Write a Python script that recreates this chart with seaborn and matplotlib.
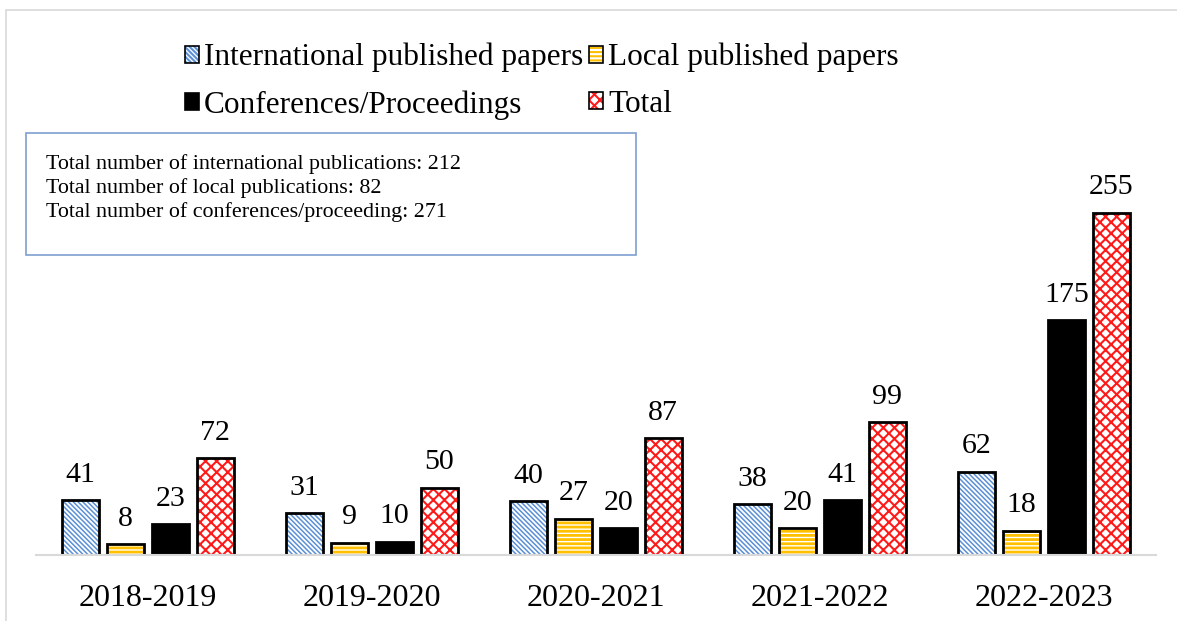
import matplotlib
matplotlib.use("Agg")
import matplotlib.pyplot as plt
from matplotlib.patches import Rectangle, Patch
from matplotlib.legend_handler import HandlerTuple
import pandas as pd
import seaborn as sns

years = ["2018-2019", "2019-2020", "2020-2021", "2021-2022", "2022-2023"]
series = ["International published papers", "Local published papers",
          "Conferences/Proceedings", "Total"]
international = [41, 31, 40, 38, 62]
local = [8, 9, 27, 20, 18]
conferences = [23, 10, 20, 41, 175]
total = [72, 50, 87, 99, 255]
summary_lines = [
    "Total number of international publications: 212",
    "Total number of local publications: 82",
    "Total number of conferences/proceeding: 271",
]

values = [international, local, conferences, total]
df = pd.DataFrame({
    "year": [y for _ in series for y in years],
    "series": [s for s in series for _ in years],
    "value": [v for vals in values for v in vals],
})

# fill, hatch, hatch colour, hatch linewidth per series
styles = {
    "International published papers": ("white", "\\" * 7, "#5b8fd6", 1.1),
    "Local published papers": ("white", "----", "#ffc000", 2.0),
    "Conferences/Proceedings": ("black", "", "black", 1.0),
    "Total": ("white", "xxx", "#ff1a1a", 1.5),
}

sns.set_theme(style="white")
plt.rcParams["font.family"] = ["Liberation Serif", "DejaVu Serif"]
plt.rcParams["text.color"] = "black"
plt.rcParams["xtick.color"] = "black"
plt.rcParams["hatch.linewidth"] = 1.5

W, H = 1177, 621
fig = plt.figure(figsize=(W / 100, H / 100), dpi=100)
fig.patch.set_facecolor("white")

# outer chart frame
fig.add_artist(Rectangle((6 / W, -0.1), 1.2, (H - 10) / H + 0.1,
                         transform=fig.transFigure, fill=False,
                         edgecolor="#d9d9d9", linewidth=1.2))

ymax = 300
px_per_unit = (555 - 213) / 255
top_px = 555 - ymax * px_per_unit
ax = fig.add_axes([36 / W, (H - 555) / H, (1156 - 36) / W, (555 - top_px) / H])

sns.barplot(data=df, x="year", y="value", hue="series", order=years,
            hue_order=series, width=0.8, gap=0.17, ax=ax, legend=False,
            errorbar=None)


def style_patch(p, fc, hatch, hc, hlw):
    p.set_facecolor(fc)
    p.set_hatch(hatch)
    p.set_edgecolor(hc)
    if hasattr(p, "set_hatch_linewidth"):
        p.set_hatch_linewidth(hlw)


for s_idx, s in enumerate(series):
    fc, hatch, hc, hlw = styles[s]
    for y_idx in range(len(years)):
        p = ax.patches[s_idx * len(years) + y_idx]
        style_patch(p, fc, hatch, hc, hlw)
        p.set_linewidth(0)
        x0, w, h = p.get_x(), p.get_width(), p.get_height()
        # black outline drawn over the hatched fill
        ax.add_patch(Rectangle((x0, 0), w, h, fill=False, edgecolor="black",
                               linewidth=2, zorder=p.get_zorder() + 0.1))
        ax.annotate(f"{values[s_idx][y_idx]}", (x0 + w / 2, h),
                    xytext=(0, 9), textcoords="offset points",
                    ha="center", va="bottom", fontsize=21.5, color="black")

ax.set_ylim(0, ymax)
ax.set_xlim(-0.5, len(years) - 0.5)
ax.set_xlabel("")
ax.set_ylabel("")
ax.set_yticks([])
ax.tick_params(axis="x", length=0, labelsize=23, pad=21, colors="black")
for side in ["top", "left", "right"]:
    ax.spines[side].set_visible(False)
ax.spines["bottom"].set_color("#d9d9d9")
ax.spines["bottom"].set_linewidth(1.5)
ax.set_facecolor("none")

# legend: hatched swatch with a black outline on top
handles, labels = [], []
for s in series:
    fc, hatch, hc, hlw = styles[s]
    fill = Patch()
    style_patch(fill, fc, hatch, hc, hlw)
    fill.set_linewidth(0)
    outline = Patch(fill=False, edgecolor="black", linewidth=1.2)
    handles.append((fill, outline))
    labels.append(s)
order = [0, 2, 1, 3]
handles = [handles[i] for i in order]
labels = [labels[i] for i in order]
leg = fig.legend(handles=handles, labels=labels,
                 handler_map={tuple: HandlerTuple(ndivide=1, pad=0)},
                 ncol=2, loc="upper left", bbox_to_anchor=(185 / W, 1 - 43 / H),
                 frameon=False, fontsize=22.5, handlelength=0.45, handleheight=0.45,
                 handletextpad=0.15, columnspacing=0.2, labelspacing=0.56,
                 borderaxespad=0, borderpad=0)

# summary box
bx0, by0, bx1, by1 = 26, 133, 636, 255
fig.add_artist(Rectangle((bx0 / W, 1 - by1 / H), (bx1 - bx0) / W, (by1 - by0) / H,
                         transform=fig.transFigure, facecolor="white",
                         edgecolor="#7f9fd0", linewidth=1.2))
for i, line in enumerate(summary_lines):
    fig.text(46 / W, 1 - (164 + 24 * i) / H, line, fontsize=15.8,
             va="center", ha="left", color="black")

fig.savefig("out.png", dpi=100, facecolor="white")
